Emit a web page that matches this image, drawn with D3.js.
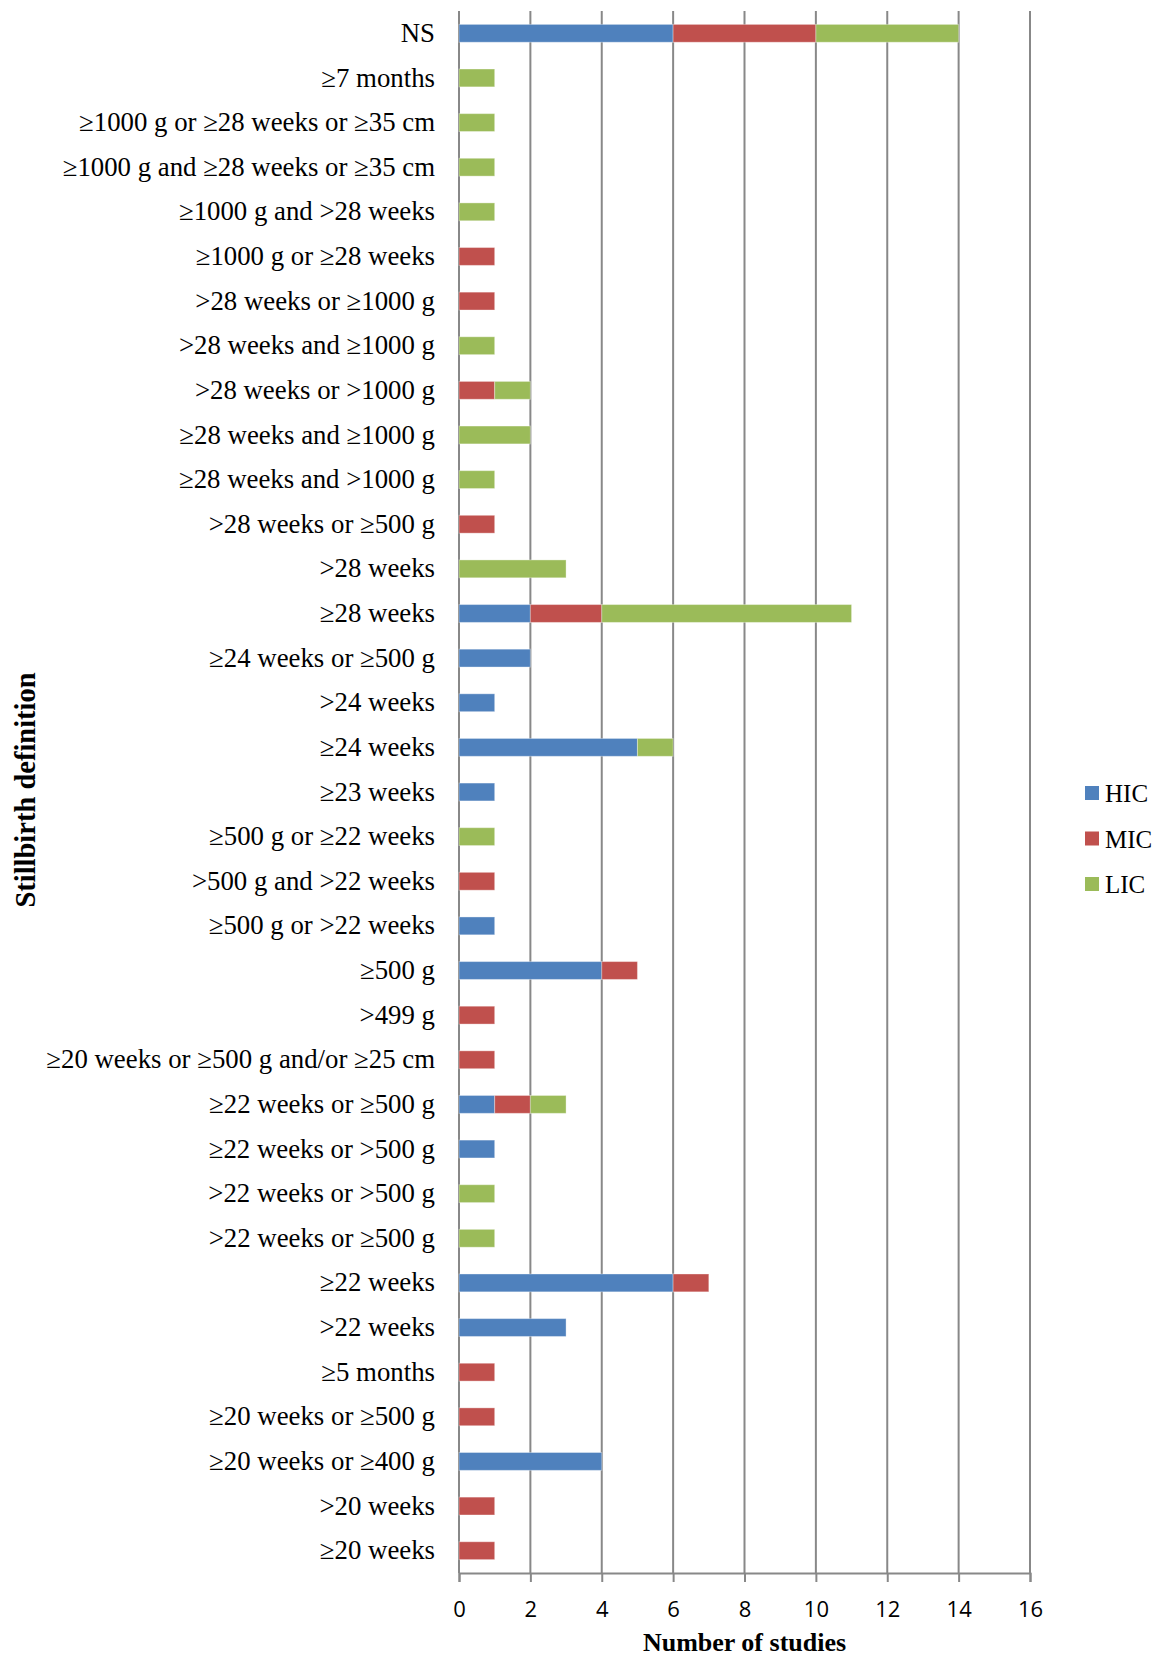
<!DOCTYPE html>
<html>
<head>
<meta charset="utf-8">
<script src="https://cdn.jsdelivr.net/npm/d3@7"></script>
<style>
  body { margin: 0; background: #fff; }
</style>
</head>
<body>
<div id="chart"></div>
<script>
const width = 1160
const height = 1660
const margin = {top: 11, bottom: 87, left: 459, right: 130}
const netWidth = width - margin.left - margin.right
const netHeight = height - margin.bottom - margin.top

// Data (top to bottom as drawn)
const categories = [
    "NS", "≥7 months", "≥1000 g or ≥28 weeks or ≥35 cm", "≥1000 g and ≥28 weeks or ≥35 cm",
    "≥1000 g and >28 weeks", "≥1000 g or ≥28 weeks", ">28 weeks or ≥1000 g", ">28 weeks and ≥1000 g",
    ">28 weeks or >1000 g", "≥28 weeks and ≥1000 g", "≥28 weeks and >1000 g", ">28 weeks or ≥500 g",
    ">28 weeks", "≥28 weeks", "≥24 weeks or ≥500 g", ">24 weeks", "≥24 weeks", "≥23 weeks",
    "≥500 g or ≥22 weeks", ">500 g and >22 weeks", "≥500 g or >22 weeks", "≥500 g", ">499 g",
    "≥20 weeks or ≥500 g and/or ≥25 cm", "≥22 weeks or ≥500 g", "≥22 weeks or >500 g",
    ">22 weeks or >500 g", ">22 weeks or ≥500 g", "≥22 weeks", ">22 weeks", "≥5 months",
    "≥20 weeks or ≥500 g", "≥20 weeks or ≥400 g", ">20 weeks", "≥20 weeks"
]
const hic = [6, 0, 0, 0, 0, 0, 0, 0, 0, 0, 0, 0, 0, 2, 2, 1, 5, 1, 0, 0, 1, 4, 0, 0, 1, 1, 0, 0, 6, 3, 0, 0, 4, 0, 0]
const mic = [4, 0, 0, 0, 0, 1, 1, 0, 1, 0, 0, 1, 0, 2, 0, 0, 0, 0, 0, 1, 0, 1, 1, 1, 1, 0, 0, 0, 1, 0, 1, 1, 0, 1, 1]
const lic = [4, 1, 1, 1, 1, 0, 0, 1, 1, 2, 1, 0, 3, 7, 0, 0, 1, 0, 1, 0, 0, 0, 0, 0, 1, 0, 1, 1, 0, 0, 0, 0, 0, 0, 0]
const seriesNames = ["HIC", "MIC", "LIC"]
const seriesColors = ["#4F81BD", "#C0504D", "#9BBB59"]
const xTicks = [0, 2, 4, 6, 8, 10, 12, 14, 16]

const rows = categories.map((c, i) => ({category: c, HIC: hic[i], MIC: mic[i], LIC: lic[i]}))

const svg = d3.select("div#chart").append("svg").attr("width", width).attr("height", height)
const elementGroup = svg.append("g").attr("transform", `translate(${margin.left}, ${margin.top})`)
const gridGroup = elementGroup.append("g").attr("id", "gridGroup")
const barsGroup = elementGroup.append("g").attr("id", "barsGroup")

const x = d3.scaleLinear().domain([0, 16]).range([0, netWidth])
const y = d3.scaleBand().domain(categories).range([0, netHeight]).paddingInner(0.6).paddingOuter(0.3)

const gridColor = "#888888"
const serif = "'Liberation Serif', 'Times New Roman', serif"

// Vertical grid lines
gridGroup.selectAll("line")
    .data(xTicks)
    .enter().append("line")
    .attr("x1", d => x(d)).attr("x2", d => x(d))
    .attr("y1", 0).attr("y2", netHeight)
    .attr("stroke", gridColor)
    .attr("stroke-width", 2)

// Bottom axis
const xAxis = d3.axisBottom(x).tickValues(xTicks).tickSize(9).tickPadding(19)
const xAxisGroup = elementGroup.append("g").attr("transform", `translate(0, ${netHeight})`).call(xAxis)
xAxisGroup.select(".domain").attr("stroke", gridColor).attr("stroke-width", 2)
xAxisGroup.selectAll(".tick line").attr("stroke", gridColor).attr("stroke-width", 2)
xAxisGroup.selectAll(".tick text")
    .attr("fill", "#000")
    .style("font-family", "'Open Sans', 'Noto Sans', sans-serif")
    .style("font-size", "22px")

// Category labels
const yAxis = d3.axisLeft(y).tickSize(0).tickPadding(24)
const yAxisGroup = elementGroup.append("g").call(yAxis)
yAxisGroup.select(".domain").remove()
yAxisGroup.selectAll(".tick text")
    .attr("fill", "#000")
    .style("font-family", serif)
    .style("font-size", "26.8px")

// Stacked bars
const stacked = d3.stack().keys(seriesNames)(rows)
barsGroup.selectAll("g")
    .data(stacked)
    .enter().append("g")
    .attr("fill", (d, i) => seriesColors[i])
    .selectAll("rect")
    .data(d => d.filter(p => p[1] - p[0] > 0))
    .enter().append("rect")
    .attr("x", d => x(d[0]))
    .attr("y", d => y(d.data.category))
    .attr("width", d => x(d[1]) - x(d[0]))
    .attr("height", y.bandwidth())
    .attr("stroke", "rgba(255,255,255,0.35)")
    .attr("stroke-width", 1)

// Axis titles
svg.append("text")
    .attr("x", margin.left + netWidth / 2)
    .attr("y", 1651)
    .attr("text-anchor", "middle")
    .style("font-family", serif)
    .style("font-weight", "bold")
    .style("font-size", "26px")
    .text("Number of studies")

svg.append("text")
    .attr("transform", `translate(35, 790) rotate(-90)`)
    .attr("text-anchor", "middle")
    .style("font-family", serif)
    .style("font-weight", "bold")
    .style("font-size", "28.5px")
    .text("Stillbirth definition")

// Legend
const legend = svg.append("g").attr("transform", "translate(1085, 793)")
const legendItems = legend.selectAll("g")
    .data(seriesNames)
    .enter().append("g")
    .attr("transform", (d, i) => `translate(0, ${i * 45.5})`)
legendItems.append("rect")
    .attr("x", 0).attr("y", -7)
    .attr("width", 14).attr("height", 14)
    .attr("fill", (d, i) => seriesColors[i])
legendItems.append("text")
    .attr("x", 20)
    .attr("y", 9)
    .style("font-family", serif)
    .style("font-size", "25px")
    .text(d => d)
</script>
</body>
</html>
